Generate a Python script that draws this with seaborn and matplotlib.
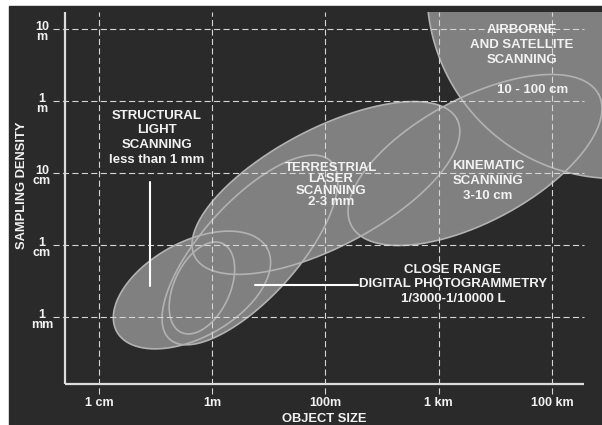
import numpy as np
import pandas as pd
import matplotlib
matplotlib.use("Agg")
import matplotlib.pyplot as plt
import seaborn as sns
from matplotlib.patches import Rectangle

sns.set_theme(style="dark")
plt.rcParams['font.family'] = ['Liberation Sans', 'DejaVu Sans']

# Axis categories (equally spaced positions)
x_tick_labels = ["1 cm", "1m", "100m", "1 km", "100 km"]
y_tick_labels = ["1\nmm", "1\ncm", "10\ncm", "1\nm", "10\nm"]

# Measurement technique regions: centre (x, y in tick units),
# semi-axes (in x-tick units) and visual tilt in degrees
region_names = ["Structural light", "Photogrammetry (small)", "Photogrammetry",
                "Terrestrial laser", "Kinematic", "Airborne and satellite"]
center_x = [0.821, 0.909, 1.333, 2.004, 3.320, 4.556]
center_y = [0.375, 0.403, 0.931, 1.792, 2.181, 4.535]
semi_major = [0.759, 0.433, 1.060, 1.307, 1.236, 1.660]
semi_minor = [0.420, 0.247, 0.424, 0.521, 0.547, 1.660]
tilt_deg = [29, 65, 48, 27.7, 28, 0]

BG = "#2b2a2b"
FILL = "#808080"
EDGE = "#b2b2b2"
TXT = "#f2f2f2"
GRID = "#d6d6d6"

W, H = 602, 425
fig = plt.figure(figsize=(W / 100, H / 100), dpi=100, facecolor="white")
fig.patches.append(Rectangle((9 / W, 0), 1, 419 / H, transform=fig.transFigure,
                             color=BG, zorder=-10))
ax = fig.add_axes([65 / W, 41 / H, 537 / W, 372 / H])
ax.set_facecolor("none")
xlim = (-0.300, 4.4415)
ylim = (-0.9306, 4.2361)
ax.set_xlim(*xlim)
ax.set_ylim(*ylim)
for s in ax.spines.values():
    s.set_visible(False)
ax.set_xticks([])
ax.set_yticks([])
ax.grid(False)

# ratio of pixel size of one x unit to one y unit
pos = ax.get_position()
px_x = pos.width * W / (xlim[1] - xlim[0])
px_y = pos.height * H / (ylim[1] - ylim[0])
k = px_x / px_y

phi = np.linspace(0, 2 * np.pi, 400)
outlines = []
for name, cx, cy, a, b, t in zip(region_names, center_x, center_y,
                                 semi_major, semi_minor, tilt_deg):
    tr = np.deg2rad(t)
    u = a * np.cos(phi)
    v = b * np.sin(phi)
    xs = cx + u * np.cos(tr) - v * np.sin(tr)
    ys = cy + (u * np.sin(tr) + v * np.cos(tr)) * k
    ax.fill(xs, ys, color=FILL, lw=0, zorder=1)
    outlines.append(pd.DataFrame({"x": xs, "y": ys, "region": name}))

df = pd.concat(outlines, ignore_index=True)
sns.lineplot(data=df, x="x", y="y", units="region", estimator=None, sort=False,
             color=EDGE, lw=1.2, ax=ax, zorder=2, legend=False)
ax.set_xlim(*xlim)
ax.set_ylim(*ylim)
ax.set_xlabel("")
ax.set_ylabel("")

# dashed grid, running past the axes as ticks
x_right = 4.283
dash = (0, (5.5, 3.0))
for i in range(len(y_tick_labels)):
    ax.plot([-0.406, x_right], [i, i], color=GRID, lw=0.8, ls=dash,
            clip_on=False, zorder=3)
for i in range(len(x_tick_labels)):
    ax.plot([i, i], [-1.069, ylim[1]], color=GRID, lw=0.8, ls=dash,
            clip_on=False, zorder=3)

# axis lines
ax.plot([xlim[0], xlim[0]], [ylim[0], ylim[1]], color="#dcdcdc", lw=1.6,
        clip_on=False, zorder=4, solid_capstyle="butt")
ax.plot([xlim[0], x_right], [ylim[0], ylim[0]], color="#dcdcdc", lw=1.6,
        clip_on=False, zorder=4, solid_capstyle="butt")

# tick labels
for i, lab in enumerate(y_tick_labels):
    ax.text(-0.505, i - 0.04, lab, ha="center", va="center", fontsize=9,
            fontweight="bold", color=TXT, linespacing=0.85, clip_on=False)
for i, lab in enumerate(x_tick_labels):
    ax.text(i, -1.195, lab, ha="center", va="center", fontsize=9,
            fontweight="bold", color=TXT, clip_on=False)

fig.text(324 / W, 1 - 419.5 / H, "OBJECT SIZE", ha="center", va="center",
         fontsize=9.3, fontweight="bold", color=TXT)
fig.text(22 / W, 1 - 185 / H, "SAMPLING DENSITY", ha="center", va="center",
         rotation=90, fontsize=9.3, fontweight="bold", color=TXT)

# region labels
lab_kw = dict(ha="center", va="center", fontsize=9.5, fontweight="bold",
              color=TXT, zorder=6, clip_on=False)
ax.text(0.512, 2.49, "STRUCTURAL\nLIGHT\nSCANNING\nless than 1 mm",
        linespacing=1.3, **lab_kw)
ax.text(2.049, 1.833, "TERRESTRIAL\nLASER\nSCANNING\n2-3 mm",
        linespacing=0.92, **lab_kw)
ax.text(3.435, 1.889, "KINEMATIC\nSCANNING\n3-10 cm", linespacing=1.3, **lab_kw)
ax.text(3.735, 3.775, "AIRBORNE\nAND SATELLITE\nSCANNING", linespacing=1.3,
        **lab_kw)
ax.text(3.832, 3.153, "10 - 100 cm", **lab_kw)
ax.text(3.126, 0.455, "CLOSE RANGE\nDIGITAL PHOTOGRAMMETRY\n1/3000-1/10000 L",
        linespacing=1.3, **lab_kw)

# leader lines
ax.plot([0.450, 0.450], [1.875, 0.431], color="white", lw=1.5, zorder=5)
ax.plot([1.377, 2.287], [0.444, 0.444], color="white", lw=1.5, zorder=5)

fig.savefig("out.png", dpi=100, facecolor="white")
